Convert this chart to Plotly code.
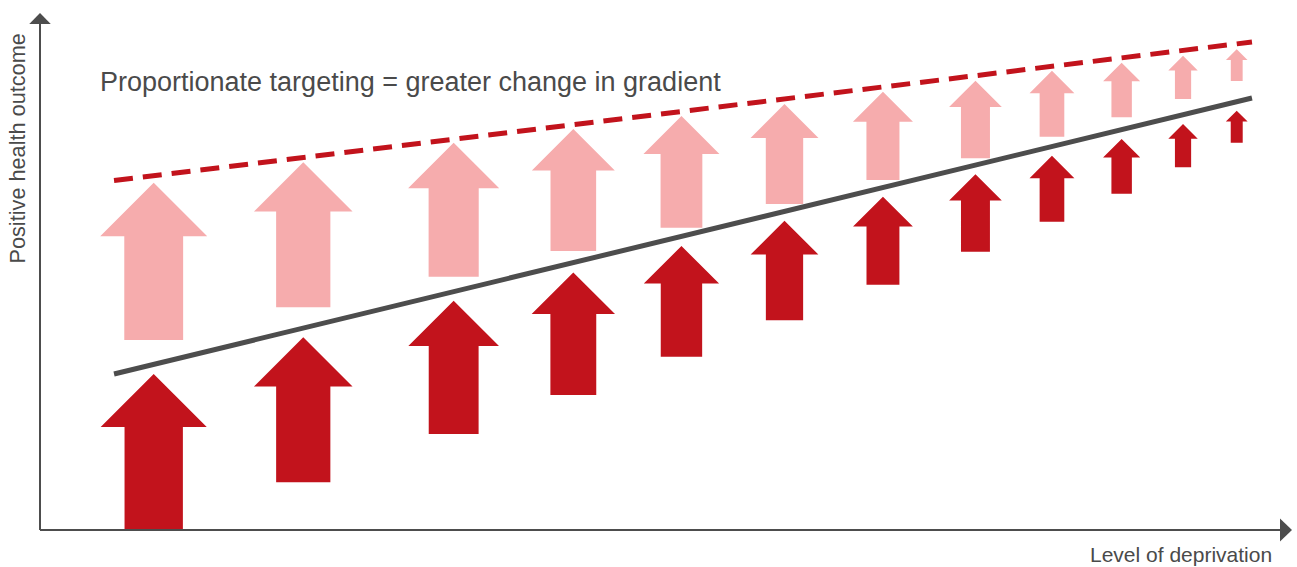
import plotly.graph_objects as go

# ---------------- data (conceptual units: 0-100 on both axes) ----------------
deprivation_level = [9.17, 21.23, 33.36, 43.01, 51.73, 60.04, 67.98, 75.44, 81.61, 87.23, 92.18, 96.51]
current_from = [0.0, 9.43, 18.97, 26.68, 34.25, 41.44, 48.48, 55.0, 60.93, 66.46, 71.68, 76.54]
current_to = [30.83, 38.08, 45.32, 50.91, 56.13, 61.13, 65.87, 70.30, 73.97, 77.27, 80.24, 82.87]
targeted_from = [37.55, 44.01, 50.06, 55.14, 59.74, 64.43, 69.17, 73.46, 77.73, 81.56, 85.18, 88.74]
targeted_to = [68.64, 72.67, 76.54, 79.25, 81.82, 84.19, 86.62, 88.79, 90.77, 92.35, 93.74, 95.0]
gradient_x = [5.97, 97.74]
current_gradient = [30.83, 85.38]
targeted_gradient = [69.07, 96.44]

title_text = "Proportionate targeting = greater change in gradient"
x_label = "Level of deprivation"
y_label = "Positive health outcome"

# ---------------- layout / style ----------------
W, H = 1297, 567
M_L, M_R, M_T, M_B = 40, 17, 24, 37
PLOT_W = W - M_L - M_R
PLOT_H = H - M_T - M_B
X_RANGE = [0, 100]
Y_RANGE = [0, 100]
PX_X = PLOT_W / (X_RANGE[1] - X_RANGE[0])
PX_Y = PLOT_H / (Y_RANGE[1] - Y_RANGE[0])

DARK_RED = "#C2131C"
PINK = "#F6ACAD"
GREY = "#4D4D4D"
TEXT_GREY = "#4A4A4A"
FONT = "Liberation Sans, Arial, Helvetica, sans-serif"

WIDTH_PER_LENGTH = 0.68   # arrow head width relative to arrow length (px)
SHAFT_RATIO = 0.55        # shaft width relative to head width
HEAD_RATIO = 0.5          # head height relative to head width


def arrow_polygons(xs, starts, ends):
    px, py = [], []
    for x, s, e in zip(xs, starts, ends):
        length_px = (e - s) * PX_Y
        w_px = WIDTH_PER_LENGTH * length_px
        hh = w_px / 2 / PX_X
        hs = SHAFT_RATIO * w_px / 2 / PX_X
        head_h = HEAD_RATIO * w_px / PX_Y
        nb = e - head_h
        px += [x - hs, x + hs, x + hs, x + hh, x, x - hh, x - hs, x - hs, None]
        py += [s, s, nb, nb, e, nb, nb, s, None]
    return px, py


fig = go.Figure()

ax, ay = arrow_polygons(deprivation_level, targeted_from, targeted_to)
fig.add_trace(go.Scatter(x=ax, y=ay, mode="lines", fill="toself", fillcolor=PINK,
                         line=dict(width=0, color=PINK), hoverinfo="skip", showlegend=False))
ax, ay = arrow_polygons(deprivation_level, current_from, current_to)
fig.add_trace(go.Scatter(x=ax, y=ay, mode="lines", fill="toself", fillcolor=DARK_RED,
                         line=dict(width=0, color=DARK_RED), hoverinfo="skip", showlegend=False))

fig.add_trace(go.Scatter(x=gradient_x, y=current_gradient, mode="lines",
                         line=dict(color=GREY, width=5), hoverinfo="skip", showlegend=False))
fig.add_trace(go.Scatter(x=gradient_x, y=targeted_gradient, mode="lines",
                         line=dict(color=DARK_RED, width=5, dash="19px,10px"),
                         hoverinfo="skip", showlegend=False))


def px2paper_x(dx):
    return dx / PLOT_W


def px2paper_y(dy):
    return dy / PLOT_H


shapes = [
    dict(type="line", xref="paper", yref="paper", x0=0, x1=1, y0=0, y1=0,
         line=dict(color=GREY, width=2), layer="above"),
    dict(type="line", xref="paper", yref="paper", x0=0, x1=0, y0=0, y1=1,
         line=dict(color=GREY, width=2), layer="above"),
    dict(type="path", xref="paper", yref="paper",
         path=f"M 1,{px2paper_y(-11.5)} L 1,{px2paper_y(11.5)} L {1 + px2paper_x(12)},0 Z",
         fillcolor=GREY, line=dict(width=0), layer="above"),
    dict(type="path", xref="paper", yref="paper",
         path=f"M {px2paper_x(-10.75)},1 L {px2paper_x(10.75)},1 L 0,{1 + px2paper_y(11)} Z",
         fillcolor=GREY, line=dict(width=0), layer="above"),
]

annotations = [
    dict(text=title_text, xref="paper", yref="paper",
         x=px2paper_x(98 - M_L), y=px2paper_y(H - M_B - 82), xanchor="left", yanchor="middle",
         showarrow=False, font=dict(family=FONT, size=27, color=TEXT_GREY)),
    dict(text=y_label, xref="paper", yref="paper", textangle=-90,
         x=px2paper_x(16.5 - M_L), y=px2paper_y(H - M_B - 149), xanchor="center", yanchor="middle",
         showarrow=False, font=dict(family=FONT, size=21.7, color=TEXT_GREY)),
    dict(text=x_label, xref="paper", yref="paper",
         x=px2paper_x(1180.5 - M_L), y=px2paper_y(H - M_B - 554), xanchor="center", yanchor="middle",
         showarrow=False, font=dict(family=FONT, size=21, color=TEXT_GREY)),
]

fig.update_layout(
    width=W, height=H, autosize=False,
    margin=dict(l=M_L, r=M_R, t=M_T, b=M_B, pad=0),
    paper_bgcolor="white", plot_bgcolor="white",
    xaxis=dict(range=X_RANGE, visible=False, fixedrange=True),
    yaxis=dict(range=Y_RANGE, visible=False, fixedrange=True),
    shapes=shapes, annotations=annotations, showlegend=False,
)

fig.write_html("out.html", config={"displayModeBar": False},
               post_script="document.body.style.margin='0';document.body.style.overflow='hidden';")
